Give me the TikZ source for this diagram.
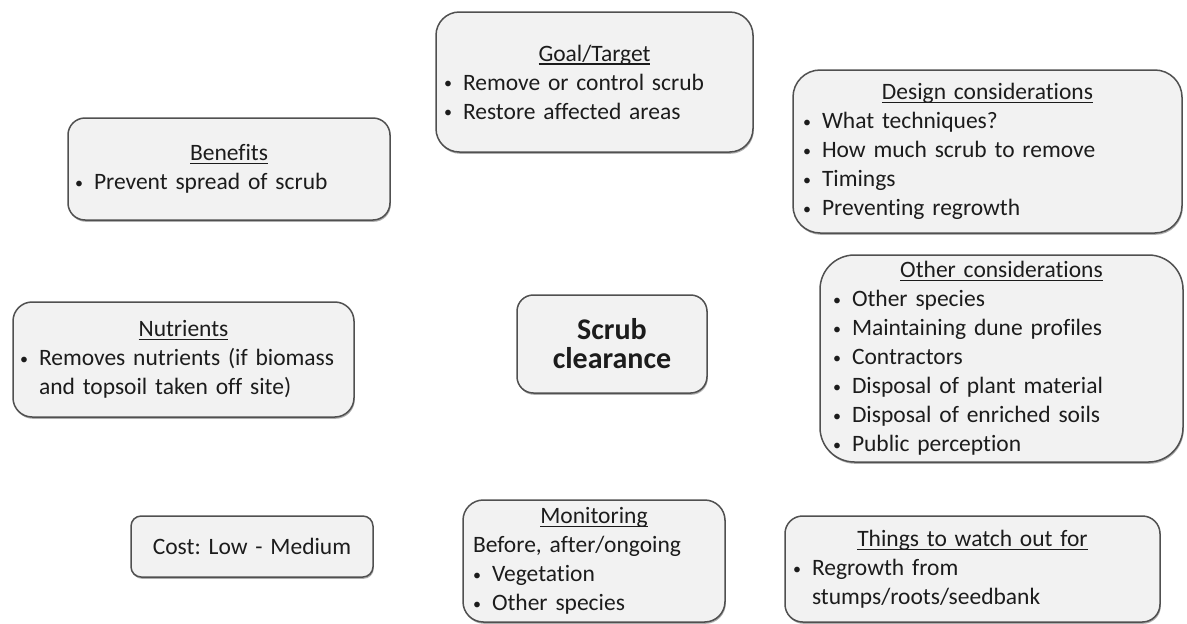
\documentclass[tikz,border=0pt]{standalone}
\usepackage{fontspec}
\setmainfont{Carlito}[Ligatures=NoCommon]
\usetikzlibrary{shadows}

\definecolor{boxfill}{RGB}{242,242,242}
\definecolor{boxline}{RGB}{80,80,80}
\definecolor{ink}{RGB}{28,28,28}

% bullet column and underlined headings
\newlength\bulletw \setlength\bulletw{19pt}
\newlength\titlew
\newcommand\ttl[1]{\settowidth\titlew{#1}\makebox[\linewidth]{\rlap{\rule[-3.6pt]{\titlew}{1.3pt}}#1}}
\newcommand\bul{\raisebox{1.2pt}{\fontsize{16pt}{16pt}\selectfont\textbullet}}
\newcommand\itm[1]{\makebox[\bulletw][l]{\bul}\mbox{#1}}
\newcommand\cont[1]{\hspace*{\bulletw}\mbox{#1}}

% \panel{name}{left}{top}{right}{bottom}{inset}{text}
\newcommand\panel[7]{%
  \pgfmathsetmacro\pw{#4-#2}%
  \pgfmathsetmacro\ph{#5-#3}%
  \pgfmathsetmacro\tw{#4-#2-2*#6}%
  \pgfmathsetmacro\rc{0.1667*min(#4-#2,#5-#3)}%
  \node[panel, rounded corners=\rc pt, inner xsep=#6pt, text width=\tw pt,
        minimum width=\pw pt, minimum height=\ph pt]
    (#1) at ({(#2+#4)/2},{(#3+#5)/2}) {#7};}

\tikzset{
  panel/.style={draw=boxline, line width=1.5pt, fill=boxfill, text=ink,
    inner ysep=1pt, outer sep=0pt, align=left,
    font=\frenchspacing\fontsize{23.5pt}{29pt}\selectfont,
    drop shadow={shadow xshift=0.8pt, shadow yshift=-1.8pt, opacity=0.45, fill=black!70}}
}

\begin{document}
\begin{tikzpicture}[x=1pt,y=-1pt]
\fill[white] (0,0) rectangle (1187,624);
\useasboundingbox (0,0) rectangle (1187,624);

\panel{goal}{436}{12}{753}{152}{8}{%
  \ttl{Goal/Target}\\
  \itm{Remove or control scrub}\\
  \itm{Restore affected areas}}

\panel{benefits}{68}{118}{390}{220}{7}{%
  \ttl{Benefits}\\
  \itm{Prevent spread of scrub}}

\panel{design}{793}{70}{1182}{233}{10}{%
  \ttl{Design considerations}\\
  \itm{What techniques?}\\
  \itm{How much scrub to remove}\\
  \itm{Timings}\\
  \itm{Preventing regrowth}}

\panel{other}{820}{255}{1183}{462}{13}{%
  \ttl{Other considerations}\\
  \itm{Other species}\\
  \itm{Maintaining dune profiles}\\
  \itm{Contractors}\\
  \itm{Disposal of plant material}\\
  \itm{Disposal of enriched soils}\\
  \itm{Public perception}}

\panel{nutrients}{13}{302}{354}{417}{7}{%
  \ttl{Nutrients}\\
  \itm{Removes nutrients (if biomass}\\
  \cont{and topsoil taken off site)}}

\panel{scrub}{517}{295}{707}{393}{8}{%
  \bfseries\fontsize{30pt}{36.6pt}\selectfont
  \makebox[\linewidth]{Scrub}\\
  \makebox[\linewidth]{clearance}}

\panel{cost}{131}{516}{373}{577}{8}{%
  \makebox[\linewidth]{Cost: Low - Medium}}

\panel{monitoring}{463}{500}{725}{622}{10}{%
  \ttl{Monitoring}\\
  Before, after/ongoing\\
  \itm{Vegetation}\\
  \itm{Other species}}

\panel{watch}{785}{516}{1160}{622}{8}{%
  \ttl{Things to watch out for}\\
  \itm{Regrowth from}\\
  \cont{stumps/roots/seedbank}}

\end{tikzpicture}
\end{document}
